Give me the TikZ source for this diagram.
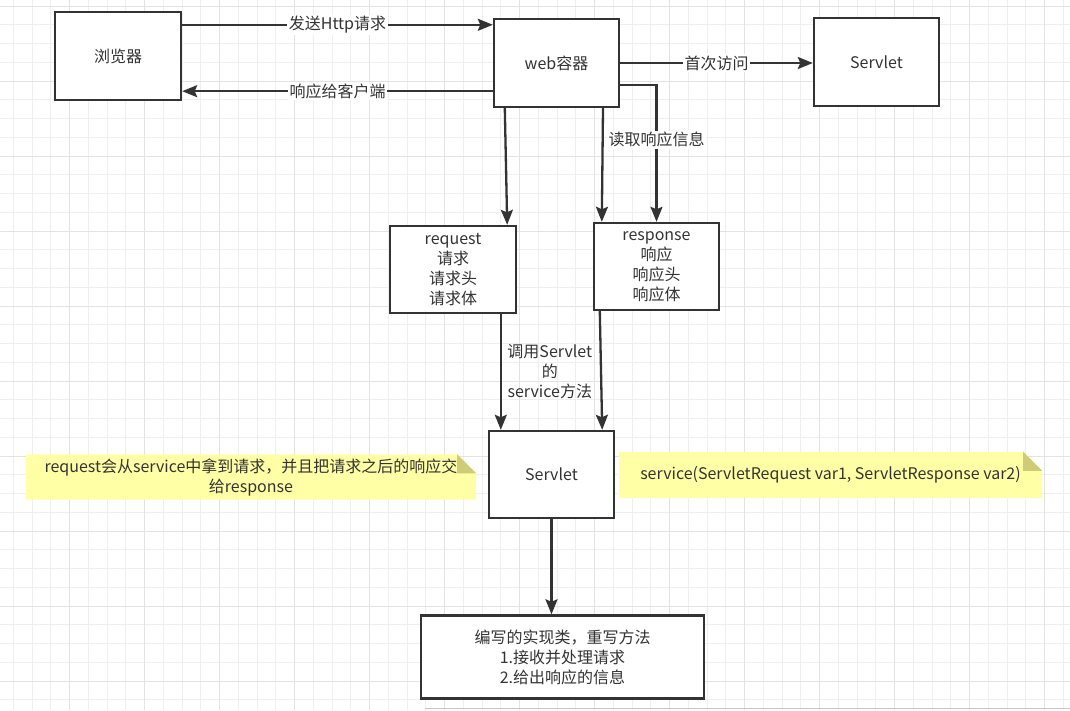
\documentclass[tikz,border=0pt]{standalone}
\usepackage{fontspec}
\setmainfont{Noto Sans CJK SC}
\usetikzlibrary{arrows.meta,backgrounds}
\definecolor{dk}{HTML}{333333}
\definecolor{gridminor}{HTML}{EFEFEF}
\definecolor{gridmajor}{HTML}{E3E3E3}
\definecolor{notefill}{HTML}{FFFFA5}
\definecolor{notefold}{HTML}{CFCC78}
\newcommand\dgfont{\fontsize{16}{20}\selectfont}
\begin{document}
\begin{tikzpicture}[x=1pt,y=-1pt,
  box/.style={draw=dk, line width=2.4pt, fill=white, text=dk, align=center, inner sep=0pt, font=\dgfont},
  arr/.style={draw=dk, line width=2.3pt, -{Stealth[length=15pt,width=12pt,inset=2.5pt]}},
  lbl/.style={fill=white, text=dk, inner sep=1.5pt, font=\dgfont},
  freelbl/.style={text=dk, align=center, inner sep=0pt, font=\dgfont},
  note/.style={text=dk, align=center, inner sep=0pt, font=\dgfont},
  gridline/.style={line width=1pt}
]
\useasboundingbox (0,0) rectangle (1070,710);
\begin{scope}[on background layer]
  \fill[white] (0,0) rectangle (1070,710);
  \foreach \i in {0,...,56} {\draw[gridline, gridminor] ({13.45+18.75*\i},0) -- ({13.45+18.75*\i},710);}
  \foreach \i in {0,...,37} {\draw[gridline, gridminor] (0,{6+18.75*\i}) -- (1070,{6+18.75*\i});}
  \foreach \i in {0,...,13} {\draw[gridline, gridmajor] ({69.7+75*\i},0) -- ({69.7+75*\i},710);}
  \foreach \i in {0,...,9} {\draw[gridline, gridmajor] (0,{6+75*\i}) -- (1070,{6+75*\i});}
  \draw[gridline, color=black!22] (425,708.5) -- (1070,708.5);
\end{scope}

% boxes
\node[box, minimum width=126pt, minimum height=88pt] (browser) at (118,56) {浏览器};
\node[box, minimum width=125pt, minimum height=88pt] (web) at (556.5,63) {web容器};
\node[box, minimum width=125pt, minimum height=88pt] (servletTop) at (876.5,62) {Servlet};
\node[box, minimum width=126pt, minimum height=87pt] (request) at (453,269.5) {request\\请求\\请求头\\请求体};
\node[box, minimum width=125pt, minimum height=87pt] (response) at (656.5,266.5) {response\\响应\\响应头\\响应体};
\node[box, minimum width=125pt, minimum height=87pt] (servlet) at (551.5,474.5) {Servlet};
\node[box, minimum width=283pt, minimum height=83pt] (impl) at (562.5,657) {编写的实现类，重写方法\\1.接收并处理请求\\2.给出响应的信息};

% notes
\node[note, minimum width=450pt, minimum height=45pt] (noteL) at (251,477) {request会从service中拿到请求，并且把请求之后的响应交\\给response};
\node[note, minimum width=423pt, minimum height=46pt] (noteR) at (830.5,475) {service(ServletRequest var1, ServletResponse var2)};
\begin{scope}[on background layer]
  \foreach \n in {noteL,noteR} {
    \fill[notefill] (\n.north west) -- ([xshift=-19pt]\n.north east) -- ([yshift=-19pt]\n.north east) -- (\n.south east) -- (\n.south west) -- cycle;
    \fill[notefold] ([xshift=-19pt]\n.north east) -- ([xshift=-19pt,yshift=-19pt]\n.north east) -- ([yshift=-19pt]\n.north east) -- cycle;
  }
\end{scope}

% connectors
\draw[arr] ([yshift=-14pt]browser.north east) -- node[lbl] {发送Http请求} ([yshift=-7pt]web.north west);
\draw[arr] ([yshift=17pt]web.south west) -- node[lbl] {响应给客户端} ([yshift=10pt]browser.south east);
\draw[arr] (web.east) -- node[lbl] {首次访问} (web.east -| servletTop.west);
\draw[arr] ([xshift=12pt]web.south west) -- ([xshift=-10pt]request.north east);
\draw[arr] ([xshift=46.5pt]web.south) -- ([xshift=9pt]response.north west);
\draw[arr] ([yshift=23pt]web.south east) -| node[lbl, pos=0.70] {读取响应信息} (response.north);
\draw[arr] ([xshift=112pt]request.south west) -- node[freelbl, xshift=49pt] {调用Servlet\\的\\service方法} ([xshift=13pt]servlet.north west);
\draw[arr] ([xshift=7pt]response.south west) -- ([xshift=-13pt]servlet.north east);
\draw[arr] (servlet.south) -- (servlet.south |- impl.north);
\end{tikzpicture}
\end{document}
